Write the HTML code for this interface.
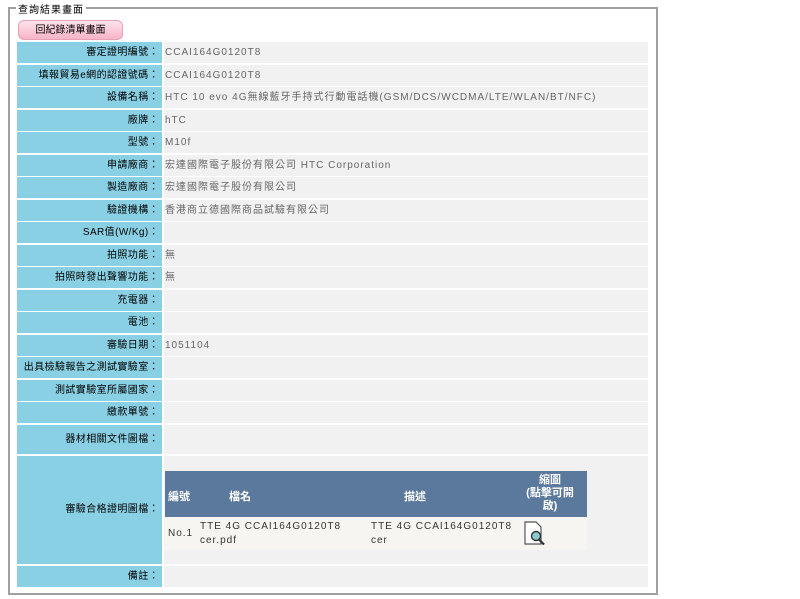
<!DOCTYPE html>
<html><head><meta charset="utf-8">
<style>
*{margin:0;padding:0;box-sizing:border-box}
body{width:800px;height:599px;background:#fff;position:relative;overflow:hidden;font-family:"Liberation Sans","Noto Sans CJK TC",sans-serif;font-size:10px}
.fs{position:absolute;left:8px;top:7px;width:650px;height:588px;border:2px solid #a0a0a0}
.lg{position:absolute;left:16px;top:1px;background:#fff;padding:0 2px;font-size:10px;letter-spacing:1px;color:#000}
.btn{position:absolute;left:18px;top:20px;width:105px;height:20px;border:1px solid #e8a0b8;border-radius:6px;background:linear-gradient(#fde3ec,#f7b4c8);text-align:center;line-height:19px;font-size:10px;color:#000}
.l{position:absolute;left:17px;width:145px;background:#8ad0e4;text-align:right;padding-right:3px;font-size:10px;letter-spacing:0.4px;color:#000;white-space:nowrap;overflow:hidden}
.v{position:absolute;left:164px;width:484px;background:#f1f1f1;padding-left:1px;font-size:10px;letter-spacing:1px;color:#666;white-space:nowrap}
.it{position:absolute;left:165px;top:471px;width:422px}
.hd{position:absolute;top:0;height:46px;width:422px;background:#5b799c;color:#fff;font-weight:bold;font-size:11px}
.hd span{position:absolute;text-align:center}
.dr{position:absolute;top:46px;height:33px;width:422px;background:#f6f5f1;color:#333;font-size:10px;letter-spacing:1px;line-height:14px}
.dr span{position:absolute}
</style></head><body>
<div class="fs"></div>
<div class="lg">查詢結果畫面</div>
<div class="btn">回紀錄清單畫面</div>

<div class="l" style="top:42px;height:21px;line-height:21px">審定證明編號：</div><div class="v" style="top:42px;height:21px;line-height:21px">CCAI164G0120T8</div>
<div class="l" style="top:65px;height:21px;line-height:21px">填報貿易e網的認證號碼：</div><div class="v" style="top:65px;height:21px;line-height:21px">CCAI164G0120T8</div>
<div class="l" style="top:87px;height:21px;line-height:21px">設備名稱：</div><div class="v" style="top:87px;height:21px;line-height:21px">HTC 10 evo 4G無線藍牙手持式行動電話機(GSM/DCS/WCDMA/LTE/WLAN/BT/NFC)</div>
<div class="l" style="top:110px;height:21px;line-height:21px">廠牌：</div><div class="v" style="top:110px;height:21px;line-height:21px">hTC</div>
<div class="l" style="top:132px;height:21px;line-height:21px">型號：</div><div class="v" style="top:132px;height:21px;line-height:21px">M10f</div>
<div class="l" style="top:155px;height:21px;line-height:21px">申請廠商：</div><div class="v" style="top:155px;height:21px;line-height:21px">宏達國際電子股份有限公司 HTC Corporation</div>
<div class="l" style="top:177px;height:21px;line-height:21px">製造廠商：</div><div class="v" style="top:177px;height:21px;line-height:21px">宏達國際電子股份有限公司</div>
<div class="l" style="top:200px;height:21px;line-height:21px">驗證機構：</div><div class="v" style="top:200px;height:21px;line-height:21px">香港商立德國際商品試驗有限公司</div>
<div class="l" style="top:222px;height:21px;line-height:21px">SAR值(W/Kg)：</div><div class="v" style="top:222px;height:21px"></div>
<div class="l" style="top:245px;height:21px;line-height:21px">拍照功能：</div><div class="v" style="top:245px;height:21px;line-height:21px">無</div>
<div class="l" style="top:267px;height:21px;line-height:21px">拍照時發出聲響功能：</div><div class="v" style="top:267px;height:21px;line-height:21px">無</div>
<div class="l" style="top:290px;height:21px;line-height:21px">充電器：</div><div class="v" style="top:290px;height:21px"></div>
<div class="l" style="top:312px;height:21px;line-height:21px">電池：</div><div class="v" style="top:312px;height:21px"></div>
<div class="l" style="top:335px;height:21px;line-height:21px">審驗日期：</div><div class="v" style="top:335px;height:21px;line-height:21px">1051104</div>
<div class="l" style="top:357px;height:21px;line-height:21px">出具檢驗報告之測試實驗室：</div><div class="v" style="top:357px;height:21px"></div>
<div class="l" style="top:380px;height:21px;line-height:21px">測試實驗室所屬國家：</div><div class="v" style="top:380px;height:21px"></div>
<div class="l" style="top:402px;height:21px;line-height:21px">繳款單號：</div><div class="v" style="top:402px;height:21px"></div>
<div class="l" style="top:425px;height:29px;line-height:29px">器材相關文件圖檔：</div><div class="v" style="top:425px;height:29px"></div>
<div class="l" style="top:456px;height:108px;line-height:108px">審驗合格證明圖檔：</div><div class="v" style="top:456px;height:108px"></div>
<div class="l" style="top:566px;height:21px;line-height:21px">備註：</div><div class="v" style="top:566px;height:21px"></div>

<div class="it">
 <div class="hd">
  <span style="left:3px;top:17px">編號</span>
  <span style="left:40px;width:70px;top:17px">檔名</span>
  <span style="left:210px;width:80px;top:17px">描述</span>
  <span style="left:352px;width:66px;top:3px;line-height:13px">縮圖<br>(點擊可開<br>啟)</span>
 </div>
 <div class="dr">
  <span style="left:3px;top:10px">No.1</span>
  <span style="left:35px;top:3px">TTE 4G CCAI164G0120T8<br>cer.pdf</span>
  <span style="left:206px;top:3px">TTE 4G CCAI164G0120T8<br>cer</span>
  <svg style="position:absolute;left:359px;top:4px" width="22" height="25" viewBox="0 0 22 25">
   <path d="M1 1h11l5 5v17H1z" fill="#fff" stroke="#555" stroke-width="1.2"/>
   <circle cx="12" cy="15" r="4.5" fill="#8cc" stroke="#333" stroke-width="1.4"/>
   <line x1="15" y1="18.5" x2="20" y2="23.5" stroke="#333" stroke-width="2.2"/>
  </svg>
 </div>
</div>
</body></html>
